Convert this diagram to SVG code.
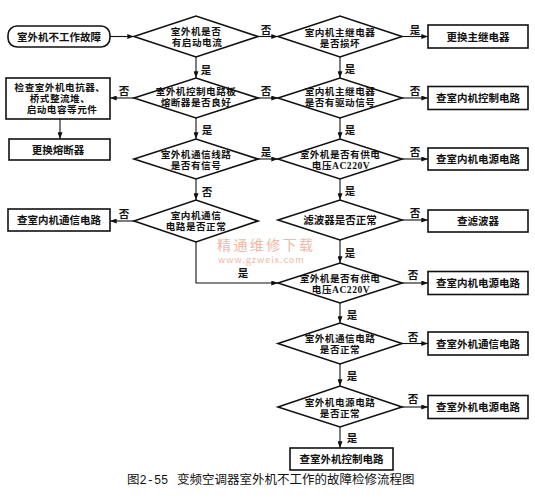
<svg xmlns="http://www.w3.org/2000/svg" width="535" height="500" viewBox="0 0 535 500">
<style>
.box{fill:#fff;stroke:#111;stroke-width:1.6}
.dia{fill:#fff;stroke:#111;stroke-width:1.6}
.t{font-family:"Noto Sans CJK SC","Liberation Sans",sans-serif;font-size:10.5px;font-weight:bold;fill:#111;text-anchor:middle}
.dt{font-family:"Noto Sans CJK SC","Liberation Sans",sans-serif;font-size:9.6px;letter-spacing:0.5px;font-weight:bold;fill:#111;text-anchor:middle}
.l{font-family:"Noto Sans CJK SC","Liberation Sans",sans-serif;font-size:10.5px;font-weight:bold;fill:#111;text-anchor:middle}
.e{stroke:#111;stroke-width:1.1;fill:none;marker-end:url(#arr)}
.ser{font-family:"Liberation Serif","Noto Sans CJK SC",serif;font-weight:bold}
.wm{font-family:"Noto Sans CJK SC",sans-serif;fill:#f2b7a6;text-anchor:start}
.cap{font-family:"Noto Sans CJK SC","Liberation Sans",sans-serif;font-size:12.5px;fill:#111}
</style>
<defs>
<marker id="arr" viewBox="0 0 8 6" refX="8" refY="3" markerWidth="7" markerHeight="5" orient="auto" markerUnits="userSpaceOnUse">
<path d="M0,0 L8,3 L0,6 z" fill="#111"/>
</marker>
</defs>
<rect width="535" height="500" fill="#fff"/>

<g id="watermark">
<text class="wm" x="217" y="250" font-size="14" letter-spacing="2.4">精通维修下载</text>
<text class="wm" x="218" y="263" font-size="9" letter-spacing="1" fill="#e8c0b4">www.gzweix.com</text>
</g>

<g id="edges">
<path class="e" d="M110,36.5 H134"/>
<path class="e" d="M258,36.5 H278"/>
<path class="e" d="M402,36.5 H428"/>
<path class="e" d="M196,57 V78"/>
<path class="e" d="M340,57 V78"/>
<path class="e" d="M134,98 H110"/>
<path class="e" d="M258,98 H278"/>
<path class="e" d="M402,98 H428"/>
<path class="e" d="M60,119 V139"/>
<path class="e" d="M196,118 V139"/>
<path class="e" d="M340,118 V139"/>
<path class="e" d="M258,159 H278"/>
<path class="e" d="M402,159 H428"/>
<path class="e" d="M196,179 V200"/>
<path class="e" d="M340,179 V200"/>
<path class="e" d="M134,221 H110"/>
<path class="e" d="M402,220 H428"/>
<path class="e" d="M196,242 V283 H278"/>
<path class="e" d="M340,240 V263"/>
<path class="e" d="M402,283 H428"/>
<path class="e" d="M340,303 V323"/>
<path class="e" d="M402,343.5 H428"/>
<path class="e" d="M340,364 V386"/>
<path class="e" d="M402,407 H428"/>
<path class="e" d="M340,427 V448"/>
<text class="l" x="266" y="34">否</text>
<text class="l" x="415" y="34">是</text>
<text class="l" x="206" y="74">是</text>
<text class="l" x="350" y="73">是</text>
<text class="l" x="124" y="95">否</text>
<text class="l" x="266" y="95">否</text>
<text class="l" x="415" y="95">否</text>
<text class="l" x="207" y="134">是</text>
<text class="l" x="350" y="134">是</text>
<text class="l" x="266" y="156">是</text>
<text class="l" x="415" y="156">否</text>
<text class="l" x="207" y="196">否</text>
<text class="l" x="350" y="195">是</text>
<text class="l" x="124" y="218">否</text>
<text class="l" x="415" y="217">否</text>
<text class="l" x="350" y="257">是</text>
<text class="l" x="243" y="277">是</text>
<text class="l" x="413" y="279">否</text>
<text class="l" x="352" y="319">是</text>
<text class="l" x="413" y="341">否</text>
<text class="l" x="352" y="380">是</text>
<text class="l" x="413" y="403">否</text>
<text class="l" x="352" y="442">是</text>
</g>

<g id="start">
<rect class="box" x="8" y="26" width="102" height="21" rx="9"/>
<text class="t" x="59" y="41">室外机不工作故障</text>
</g>

<g id="d1">
<polygon class="dia" points="134,36.5 196,16 258,36.5 196,57"/>
<text class="dt" x="196" y="35">室外机是否</text>
<text class="dt" x="197" y="46">有启动电流</text>
</g>

<g id="d1r">
<polygon class="dia" points="278,36.5 340,16 402,36.5 340,57"/>
<text class="dt" x="340" y="35.5">室内机主继电器</text>
<text class="dt" x="340" y="46.5">是否损坏</text>
</g>

<g id="b1r">
<rect class="box" x="428" y="25" width="100" height="23"/>
<text class="t" x="478" y="40.5">更换主继电器</text>
</g>

<g id="d2">
<polygon class="dia" points="134,98 196,78 258,98 196,118"/>
<text class="dt" x="196" y="95" letter-spacing="0">室外机控制电路板</text>
<text class="dt" x="196" y="106" letter-spacing="0">熔断器是否良好</text>
</g>

<g id="d2r">
<polygon class="dia" points="278,98 340,78 402,98 340,118"/>
<text class="dt" x="340" y="95">室内机主继电器</text>
<text class="dt" x="340" y="106">是否有驱动信号</text>
</g>

<g id="b2r">
<rect class="box" x="428" y="86.5" width="100" height="23"/>
<text class="t" x="478" y="102">查室内机控制电路</text>
</g>

<g id="bL1">
<rect class="box" x="6" y="78" width="104" height="41"/>
<text class="dt" x="60" y="90.5" letter-spacing="0.8">检查室外机电抗器、</text>
<text class="dt" x="60" y="101.5" letter-spacing="0.8">桥式整流堆、</text>
<text class="dt" x="62" y="112.5" letter-spacing="0.8">启动电容等元件</text>
</g>

<g id="bL2">
<rect class="box" x="9" y="139" width="101" height="21"/>
<text class="t" x="58" y="154">更换熔断器</text>
</g>

<g id="d3">
<polygon class="dia" points="134,159 196,139 258,159 196,179"/>
<text class="dt" x="196" y="157.5">室外机通信线路</text>
<text class="dt" x="196" y="168.5">是否有信号</text>
</g>

<g id="d3r">
<polygon class="dia" points="278,159 340,139 402,159 340,179"/>
<text class="dt" x="340" y="158">室外机是否有供电</text>
<text class="dt" x="341" y="169">电压<tspan class="ser">AC220V</tspan></text>
</g>

<g id="b3r">
<rect class="box" x="428" y="148" width="100" height="22"/>
<text class="t" x="478" y="163">查室内机电源电路</text>
</g>

<g id="d4">
<polygon class="dia" points="134,221 196,200 258,221 196,242"/>
<text class="dt" x="196" y="219">室内机通信</text>
<text class="dt" x="196" y="230">电路是否正常</text>
</g>

<g id="bL3">
<rect class="box" x="8" y="209" width="102" height="22"/>
<text class="t" x="59" y="224">查室内机通信电路</text>
</g>

<g id="d4r">
<polygon class="dia" points="278,220 340,200 402,220 340,240"/>
<text class="t" x="340" y="224">滤波器是否正常</text>
</g>

<g id="b4r">
<rect class="box" x="428" y="210" width="100" height="22"/>
<text class="t" x="478" y="225">查滤波器</text>
</g>

<g id="d5">
<polygon class="dia" points="278,283 340,263 402,283 340,303"/>
<text class="dt" x="340" y="282">室外机是否有供电</text>
<text class="dt" x="341" y="293">电压<tspan class="ser">AC220V</tspan></text>
</g>

<g id="b5r">
<rect class="box" x="428" y="271.5" width="100" height="23"/>
<text class="t" x="478" y="287">查室内机电源电路</text>
</g>

<g id="d6">
<polygon class="dia" points="278,343.5 340,323 402,343.5 340,364"/>
<text class="dt" x="340" y="342">室外机通信电路</text>
<text class="dt" x="340" y="353">是否正常</text>
</g>

<g id="b6r">
<rect class="box" x="428" y="332" width="100" height="23"/>
<text class="t" x="478" y="347.5">查室外机通信电路</text>
</g>

<g id="d7">
<polygon class="dia" points="278,407 340,386 402,407 340,427"/>
<text class="dt" x="340" y="405.5">室外机电源电路</text>
<text class="dt" x="340" y="416.5">是否正常</text>
</g>

<g id="b7r">
<rect class="box" x="428" y="395.5" width="100" height="23"/>
<text class="t" x="478" y="411">查室外机电源电路</text>
</g>

<g id="final">
<rect class="box" x="290" y="448" width="103" height="22"/>
<text class="t" x="341.5" y="463">查室外机控制电路</text>
</g>

<g id="caption">
<text class="cap" x="127" y="484">图<tspan font-family="Liberation Mono,monospace" font-size="12">2-55</tspan><tspan x="177">变频空调器室外机不工作的故障检修流程图</tspan></text>
</g>
</svg>
